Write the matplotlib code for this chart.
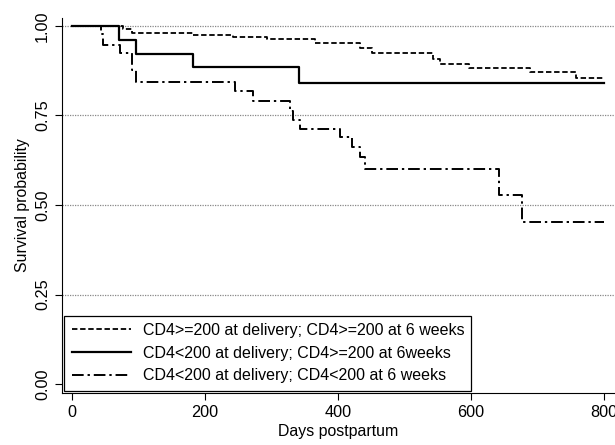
import matplotlib.pyplot as plt

plt.rcParams["font.family"] = ["Liberation Sans", "DejaVu Sans"]

# Kaplan-Meier step data (days, survival)
days_a = [0, 77, 90, 182, 242, 293, 365, 433, 451, 543, 553, 598, 689, 759, 800]
surv_a = [1.0, 0.99, 0.981, 0.975, 0.970, 0.964, 0.952, 0.938, 0.924, 0.908,
          0.894, 0.882, 0.872, 0.854, 0.854]

days_b = [0, 71, 96, 182, 341, 800]
surv_b = [1.0, 0.96, 0.922, 0.884, 0.84, 0.84]

days_c = [0, 43, 47, 72, 90, 97, 245, 272, 328, 333, 343, 403, 421, 433, 441,
          643, 677, 800]
surv_c = [1.0, 0.978, 0.947, 0.924, 0.877, 0.844, 0.818, 0.789, 0.761, 0.737,
          0.711, 0.691, 0.663, 0.635, 0.600, 0.528, 0.453, 0.453]

labels = ["CD4>=200 at delivery; CD4>=200 at 6 weeks",
          "CD4<200 at delivery; CD4>=200 at 6weeks",
          "CD4<200 at delivery; CD4<200 at 6 weeks"]

yticks = [0.0, 0.25, 0.5, 0.75, 1.0]
xticks = [0, 200, 400, 600, 800]

fig = plt.figure(figsize=(6.15, 4.45), dpi=100)
ax = fig.add_axes([62 / 615, 1 - 393 / 445, 1 - 62 / 615, 375 / 445])

for y in yticks[1:]:
    ax.axhline(y, color="#888888", linestyle=(0, (1, 1)), linewidth=0.9, zorder=1)

ax.step(days_a, surv_a, where="post", color="black", linewidth=1.3,
        linestyle=(0, (3, 1.5)), label=labels[0], zorder=3)
ax.step(days_b, surv_b, where="post", color="black", linewidth=1.6,
        linestyle="-", label=labels[1], zorder=3)
ax.step(days_c, surv_c, where="post", color="black", linewidth=1.4,
        linestyle=(0, (6, 2, 1.2, 2)), label=labels[2], zorder=3)

ax.set_xlim(-15, 817)
ax.set_ylim(-0.025, 1.022)
ax.set_xticks(xticks)
ax.set_yticks(yticks)
ax.set_yticklabels(["0.00", "0.25", "0.50", "0.75", "1.00"], rotation=90, va="center")
ax.tick_params(direction="out", length=5, width=0.8, labelsize=11.7, colors="black")
ax.spines["top"].set_visible(False)
ax.spines["right"].set_visible(False)
ax.set_xlabel("Days postpartum", fontsize=11.4, labelpad=3)
ax.set_ylabel("Survival probability", fontsize=11.4, labelpad=4)

leg = ax.legend(loc="lower left", fontsize=11.5, borderaxespad=0.15,
                handlelength=3.7, frameon=True, fancybox=False, edgecolor="black",
                framealpha=1, borderpad=0.45, labelspacing=0.48, handletextpad=0.75)
leg.get_frame().set_linewidth(0.9)

fig.savefig("out.png", dpi=100)
